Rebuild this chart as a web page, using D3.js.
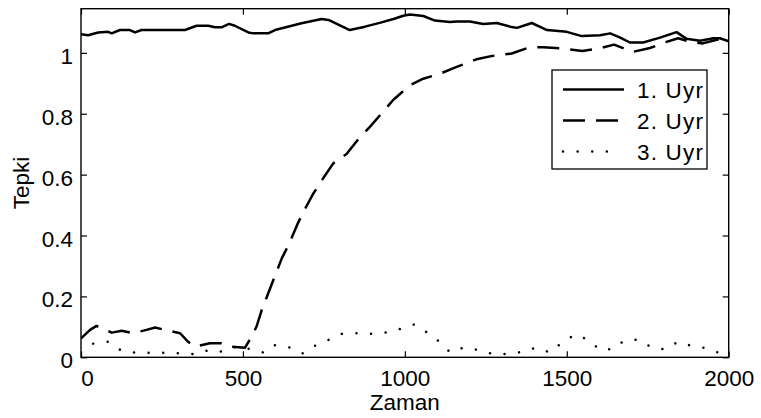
<!DOCTYPE html>
<html>
<head>
<meta charset="utf-8">
<script src="https://cdn.jsdelivr.net/npm/d3@7"></script>
<style>
  body { margin: 0; background: #fff; }
  text { font-family: "Liberation Sans", Arial, sans-serif; }
</style>
</head>
<body>
<div id="visContainer"></div>
<script>
'use strict';

// data
var xTicks = [0, 500, 1000, 1500, 2000];
var yTicks = [0, 0.2, 0.4, 0.6, 0.8, 1];
var seriesNames = ['1. Uyr', '2. Uyr', '3. Uyr'];

var s1X = [0,22,53,84,95,120,151,167,187,321,357,393,414,434,457,475,517,532,578,599,681,743,764,830,877,928,970,995,1016,1057,1093,1139,1160,1201,1242,1284,1325,1346,1392,1439,1500,1546,1603,1634,1665,1695,1736,1788,1839,1870,1911,1953,1973,2000];
var s1Y = [1.061,1.058,1.067,1.069,1.064,1.075,1.075,1.067,1.075,1.075,1.089,1.089,1.084,1.084,1.095,1.089,1.067,1.064,1.064,1.075,1.097,1.111,1.108,1.075,1.086,1.100,1.113,1.122,1.126,1.121,1.106,1.101,1.103,1.103,1.095,1.098,1.086,1.082,1.098,1.075,1.069,1.055,1.058,1.064,1.05,1.034,1.034,1.05,1.068,1.046,1.04,1.048,1.048,1.038];

var s2X = [0,28,48,95,126,161,202,229,259,306,331,352,398,434,465,506,527,542,558,594,620,641,667,687,718,744,779,820,858,892,964,1016,1057,1110,1160,1225,1270,1330,1385,1428,1484,1548,1598,1646,1703,1757,1808,1844,1885,1920,1970,2000];
var s2Y = [0.062,0.090,0.103,0.081,0.087,0.079,0.090,0.098,0.090,0.079,0.051,0.035,0.046,0.046,0.035,0.031,0.068,0.101,0.155,0.254,0.325,0.369,0.434,0.478,0.539,0.582,0.637,0.668,0.719,0.757,0.845,0.894,0.915,0.932,0.954,0.980,0.990,0.998,1.018,1.018,1.015,1.006,1.014,1.027,1.003,1.016,1.036,1.048,1.035,1.031,1.045,1.048];

var s3X = [0,41,84,126,170,216,262,309,352,395,439,484,522,566,599,642,685,723,764,806,850,895,939,982,1029,1068,1107,1140,1181,1226,1272,1320,1364,1405,1448,1486,1526,1567,1603,1641,1678,1724,1762,1803,1844,1887,1933,1978,2000];
var s3Y = [0.03,0.046,0.051,0.021,0.015,0.015,0.015,0.013,0.010,0.024,0.018,0.037,0.027,0.015,0.040,0.033,0.013,0.038,0.057,0.077,0.079,0.077,0.081,0.092,0.108,0.082,0.051,0.016,0.032,0.024,0.011,0.011,0.018,0.032,0.016,0.049,0.075,0.057,0.024,0.027,0.055,0.058,0.032,0.026,0.051,0.037,0.030,0.011,0.008];

var width = 761, height = 418;
var margin = {top: 8.7, right: 32.3, bottom: 60.7, left: 81};
var plotW = width - margin.left - margin.right;
var plotH = height - margin.top - margin.bottom;
var fontSize = 22.5;

var svg = d3.select('#visContainer')
  .append('svg')
  .attr('width', width)
  .attr('height', height);

var xScale = d3.scaleLinear().domain([0, 2000]).range([0, plotW]);
var yScale = d3.scaleLinear().domain([0, 1.145]).range([plotH, 0]);

var g = svg.append('g')
  .attr('transform', 'translate(' + margin.left + ',' + margin.top + ')');

g.append('clipPath').attr('id', 'clip')
  .append('rect').attr('width', plotW).attr('height', plotH);

// lines
var series = [
  {x: s1X, y: s1Y, dash: null},
  {x: s2X, y: s2Y, dash: '22,11'},
  {x: s3X, y: s3Y, dash: '0.01,14.6'}
];
var line = d3.line()
  .x(function(d){ return xScale(d[0]); })
  .y(function(d){ return yScale(d[1]); });

series.forEach(function(s, i){
  var pts = s.x.map(function(v, j){ return [v, s.y[j]]; });
  g.append('path')
    .attr('clip-path', 'url(#clip)')
    .attr('d', line(pts))
    .attr('fill', 'none')
    .attr('stroke', '#000')
    .attr('stroke-width', i == 2 ? 2.5 : 2.5)
    .attr('stroke-linecap', i == 2 ? 'round' : 'butt')
    .attr('stroke-linejoin', 'round')
    .attr('stroke-dasharray', s.dash)
    .attr('stroke-dashoffset', i == 2 ? -13 : 0);
});

// axes, ticks inward and mirrored
function styleAxis(sel){
  sel.select('.domain').remove();
  sel.selectAll('.tick line').attr('stroke', '#000').attr('stroke-width', 1.2);
  sel.selectAll('.tick text').attr('font-size', fontSize).attr('fill', '#000');
}
var xAxis = g.append('g').attr('transform', 'translate(0,' + plotH + ')')
  .call(d3.axisBottom(xScale).tickValues(xTicks).tickSize(-6).tickPadding(12.5).tickFormat(d3.format('d')));
styleAxis(xAxis);
xAxis.selectAll('.tick text').attr('dy', '0.71em')
  .attr('dx', function(d){ return d == 0 ? 6 : 0; });

var yAxis = g.append('g')
  .call(d3.axisLeft(yScale).tickValues(yTicks).tickSize(-6).tickPadding(8).tickFormat(function(d){ return d3.format('')(+d.toFixed(1)); }));
styleAxis(yAxis);
yAxis.selectAll('.tick text').attr('dy', '0.47em');

var xTop = g.append('g').call(d3.axisTop(xScale).tickValues(xTicks).tickSize(-6).tickFormat(''));
styleAxis(xTop);
var yRight = g.append('g').attr('transform', 'translate(' + plotW + ',0)')
  .call(d3.axisRight(yScale).tickValues(yTicks).tickSize(-6).tickFormat(''));
styleAxis(yRight);

g.append('rect')
  .attr('width', plotW).attr('height', plotH)
  .attr('fill', 'none').attr('stroke', '#000').attr('stroke-width', 1.4);

// axis titles
svg.append('text')
  .attr('x', margin.left + plotW / 2).attr('y', 410)
  .attr('text-anchor', 'middle').attr('font-size', fontSize)
  .text('Zaman');
svg.append('text')
  .attr('transform', 'translate(29,' + (margin.top + plotH / 2) + ') rotate(-90)')
  .attr('text-anchor', 'middle').attr('font-size', fontSize)
  .text('Tepki');

// legend
var legend = svg.append('g').attr('transform', 'translate(552,70)');
legend.append('rect')
  .attr('width', 155).attr('height', 99)
  .attr('fill', '#fff').attr('stroke', '#000').attr('stroke-width', 1.3);
seriesNames.forEach(function(name, i){
  var yy = 19.5 + i * 31;
  legend.append('line')
    .attr('x1', 11).attr('x2', i == 2 ? 60 : 72)
    .attr('y1', yy).attr('y2', yy)
    .attr('stroke', '#000')
    .attr('stroke-width', 2.5)
    .attr('stroke-linecap', i == 2 ? 'round' : 'butt')
    .attr('stroke-dasharray', series[i].dash);
  legend.append('text')
    .attr('x', 85).attr('y', yy + 8.5)
    .attr('font-size', fontSize)
    .attr('letter-spacing', 1.2)
    .text(name);
});
</script>
</body>
</html>
